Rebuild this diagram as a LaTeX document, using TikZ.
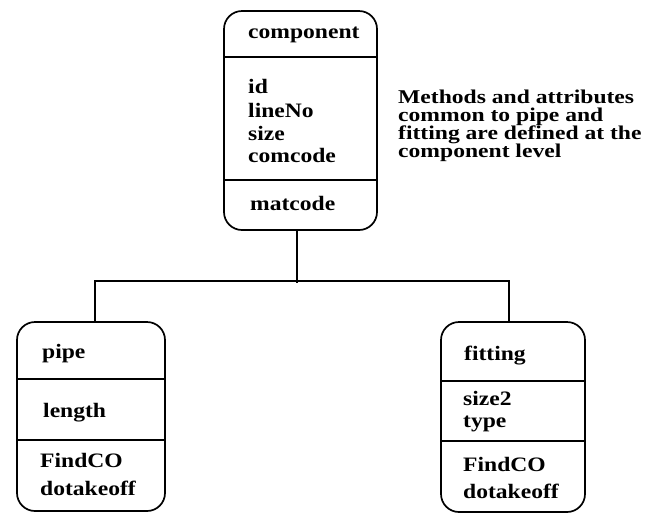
\documentclass[tikz,border=0pt]{standalone}
\usepackage{fontspec}
\setmainfont{Liberation Serif}[FakeStretch=1.15]
\newfontfamily\notefont{Liberation Serif}[FakeStretch=1.21]
\begin{document}
\begin{tikzpicture}[x=1pt,y=-1pt,
  box/.style={draw, rectangle, line width=1.7pt, rounded corners=18pt, inner sep=0pt},
  rule/.style={line width=1.7pt},
  link/.style={line width=1.7pt},
  txt/.style={anchor=base west, inner sep=0pt, font=\bfseries\fontsize{20.5}{23}\selectfont},
  notetxt/.style={anchor=base west, inner sep=0pt, font=\notefont\bfseries\fontsize{19.5}{18}\selectfont}]
\useasboundingbox (0,0) rectangle (647,515);

% class boxes
\node[box, minimum width=153pt, minimum height=219pt] (comp) at (300.5,120.5) {};
\node[box, minimum width=148pt, minimum height=189pt] (pipe) at (91,416.5) {};
\node[box, minimum width=144pt, minimum height=190pt] (fit)  at (513,417) {};

% compartment dividers
\draw[rule] (comp.west |- 0,57)  -- (comp.east |- 0,57);
\draw[rule] (comp.west |- 0,180) -- (comp.east |- 0,180);
\draw[rule] (pipe.west |- 0,379) -- (pipe.east |- 0,379);
\draw[rule] (pipe.west |- 0,440) -- (pipe.east |- 0,440);
\draw[rule] (fit.west |- 0,381)  -- (fit.east |- 0,381);
\draw[rule] (fit.west |- 0,441)  -- (fit.east |- 0,441);

% component
\node[txt] (compname) at (248,38)  {component};
\node[txt] (cid)      at (248,93)  {id};
\node[txt] (cline)    at (248,117) {lineNo};
\node[txt] (csize)    at (248,140) {size};
\node[txt] (ccom)     at (248,162) {comcode};
\node[txt] (cmat)     at (250,210) {matcode};

% pipe
\node[txt] (pipename) at (42,358)  {pipe};
\node[txt] (plen)     at (43,417)  {length};
\node[txt] (pfind)    at (40,467)  {FindCO};
\node[txt] (ptake)    at (40,495)  {dotakeoff};

% fitting
\node[txt] (fitname)  at (464,360) {fitting};
\node[txt] (fsize)    at (463,405) {size2};
\node[txt] (ftype)    at (463,427) {type};
\node[txt] (ffind)    at (463,471) {FindCO};
\node[txt] (ftake)    at (463,498) {dotakeoff};

% note
\node[notetxt] (n1) at (398,103) {Methods and attributes};
\node[notetxt] (n2) at (398,121) {common to pipe and};
\node[notetxt] (n3) at (398,139) {fitting are defined at the};
\node[notetxt] (n4) at (398,157) {component level};

% inheritance tree
\draw[link] ([xshift=-3.5pt]comp.south) -- ++(0,52);
\draw[link] ([xshift=4pt]pipe.north) -- ++(0,-40) -| ([xshift=-4pt]fit.north);
\end{tikzpicture}
\end{document}
